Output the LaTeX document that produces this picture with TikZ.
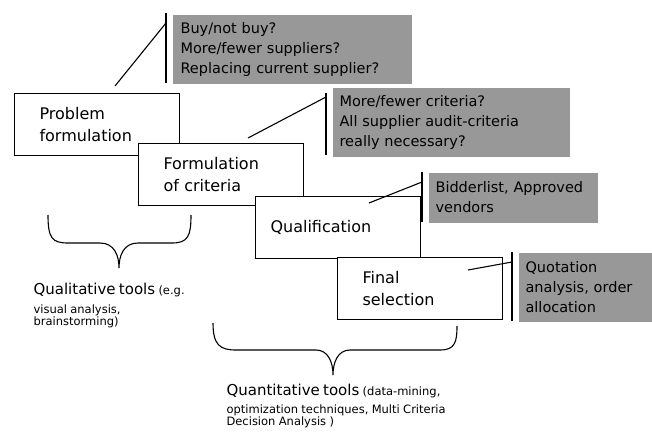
\documentclass[tikz,border=0pt]{standalone}
\usepackage{fontspec}
\setmainfont{DejaVu Sans}
\usepackage{xcolor}
\usepackage{tikz}
\usetikzlibrary{positioning}

\definecolor{notegray}{RGB}{152,152,152}

\begin{document}
\begin{tikzpicture}[x=1pt,y=-1pt,line width=1.1pt,
  stage/.style={draw,fill=white,rectangle,align=left,text width=115pt,inner xsep=25pt,minimum height=62pt,anchor=north west,font=\fontsize{16}{22}\selectfont},
  note/.style={fill=notegray,rectangle,align=left,inner xsep=7pt,minimum height=69pt,anchor=north west,font=\fontsize{14.5}{20}\selectfont},
  tool/.style={align=left,anchor=north west,inner sep=0pt}]
\useasboundingbox (0,0) rectangle (652,431);

% questions per stage
\node[note,text width=223pt,inner xsep=8pt] (n1) at (172,14)  {Buy/not buy?\\More/fewer suppliers?\\Replacing current supplier?};
\node[note,text width=223pt]                (n2) at (332,87)  {More/fewer criteria?\\All supplier audit-criteria\\really necessary?};
\node[note,text width=155pt,minimum height=50pt] (n3) at (428,172) {Bidderlist, Approved\\vendors};
\node[note,text width=120pt]                (n4) at (518,252) {Quotation\\analysis, order\\allocation};

% stages
\node[stage]                                (prob)  at (14,93)   {Problem\\formulation};
\node[stage]                                (crit)  at (138,143) {Formulation\\of criteria};
\node[stage,inner xsep=15pt,text width=135pt] (qual)  at (255,196) {Qualification};
\node[stage]                                (final) at (337,257) {Final\\selection};

% bars and leaders
\coordinate (b1t) at (166,13);  \coordinate (b1b) at (166,83);
\coordinate (b2t) at (326,93);  \coordinate (b2b) at (326,155);
\coordinate (b3t) at (422,172); \coordinate (b3b) at (422,222);
\coordinate (b4t) at (512,252); \coordinate (b4b) at (512,321);
\coordinate (l1) at (115,86);   \coordinate (e1) at (166,23);
\coordinate (l2) at (248,138);  \coordinate (e2) at (326,97);
\coordinate (l3) at (369,203);  \coordinate (e3) at (422,182);
\coordinate (l4) at (468,270);  \coordinate (e4) at (512,262);

\foreach \i in {1,...,4}{
  \draw (b\i t) -- (b\i b);
  \draw (l\i) -- (e\i);
}

% braces
\draw (48,215) .. controls (48,238) and (52,243) .. (68,243) -- (100,243)
  .. controls (114,243) and (119,255) .. (119,268)
  .. controls (119,255) and (124,243) .. (138,243) -- (172,243)
  .. controls (188,243) and (191,236) .. (191,215);
\draw (213,323) .. controls (213,345) and (220,350) .. (236,350) -- (316,350)
  .. controls (328,350) and (333,362) .. (333,375)
  .. controls (333,362) and (338,350) .. (350,350) -- (440,350)
  .. controls (455,350) and (457,342) .. (457,326);

% tools
\node[tool,text width=200pt] (qltools) at (33,283)
  {\fontsize{15}{19}\selectfont Qualitative tools {\fontsize{11.5}{14}\selectfont (e.g.}\\[5pt]
   \fontsize{11.5}{14}\selectfont visual analysis,\\brainstorming)};
\node[tool,text width=260pt] (qntools) at (226,384)
  {\fontsize{15}{19}\selectfont Quantitative tools {\fontsize{11.5}{14}\selectfont (data-mining,}\\[4pt]
   \fontsize{11.5}{14}\selectfont optimization techniques, Multi Criteria\\Decision Analysis )};

\end{tikzpicture}
\end{document}
